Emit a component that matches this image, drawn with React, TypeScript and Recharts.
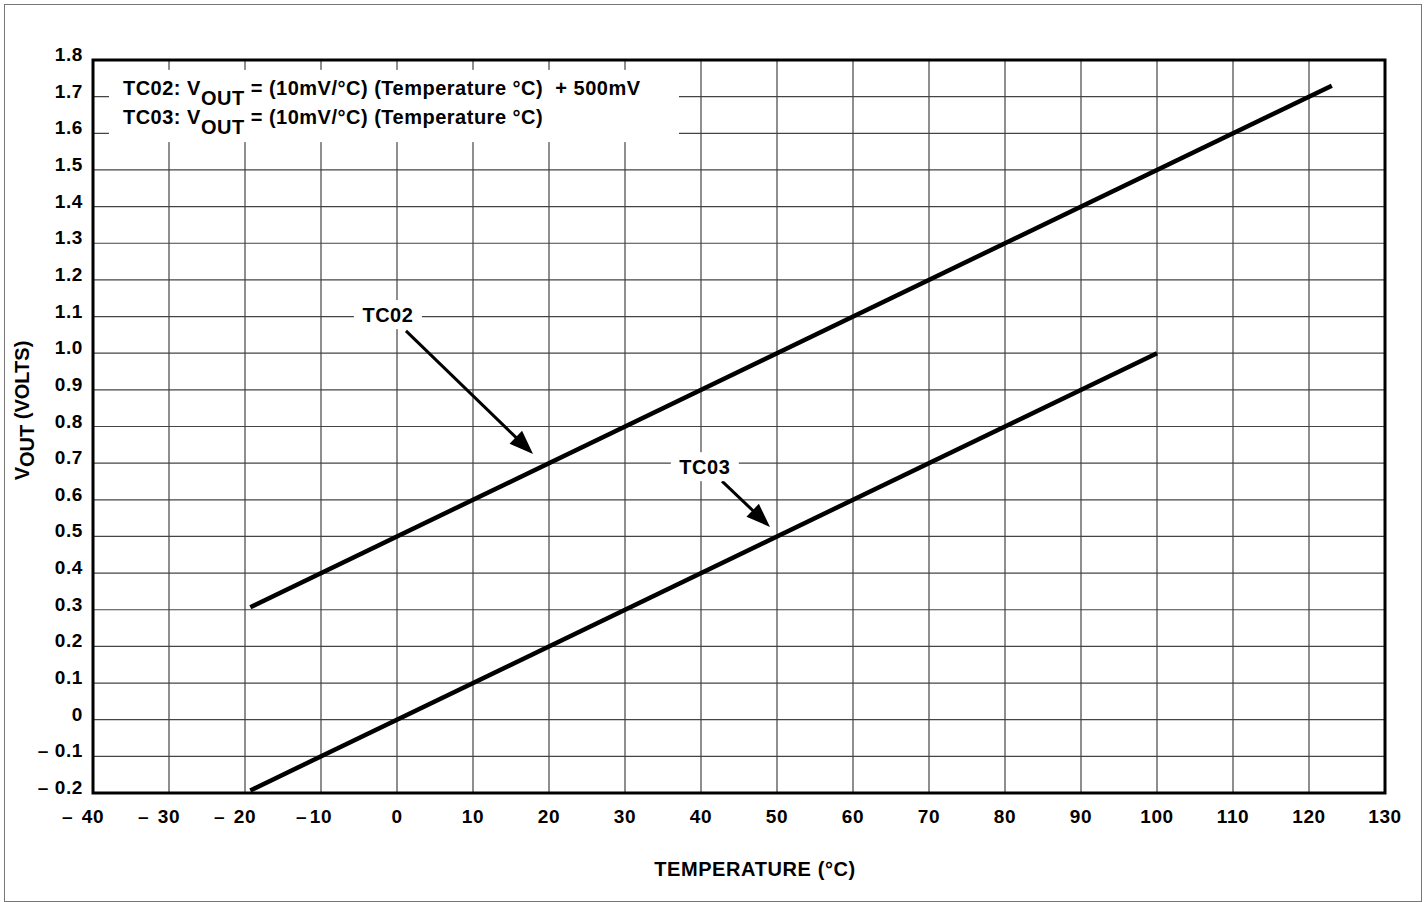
import React from 'react';
import {
  LineChart,
  Line,
  XAxis,
  YAxis,
  CartesianGrid,
  ReferenceArea,
  ReferenceLine,
  ReferenceDot,
} from 'recharts';

// ---- data ----
const X_TICKS = [-40, -30, -20, -10, 0, 10, 20, 30, 40, 50, 60, 70, 80, 90, 100, 110, 120, 130];
const X_LABELS = ['– 40', '– 30', '– 20', '–10', '0', '10', '20', '30', '40', '50', '60', '70', '80', '90', '100', '110', '120', '130'];
const Y_TICKS = [-0.2, -0.1, 0, 0.1, 0.2, 0.3, 0.4, 0.5, 0.6, 0.7, 0.8, 0.9, 1.0, 1.1, 1.2, 1.3, 1.4, 1.5, 1.6, 1.7, 1.8];
const Y_LABELS = ['– 0.2', '– 0.1', '0', '0.1', '0.2', '0.3', '0.4', '0.5', '0.6', '0.7', '0.8', '0.9', '1.0', '1.1', '1.2', '1.3', '1.4', '1.5', '1.6', '1.7', '1.8'];

const TC02 = [
  { t: -19.3, v: 0.307 },
  { t: 123, v: 1.73 },
];
const TC03 = [
  { t: -19.3, v: -0.193 },
  { t: 100, v: 1.0 },
];

const SERIES_LABELS = [
  { name: 'TC02', t: -1.2, v: 1.104 },
  { name: 'TC03', t: 40.5, v: 0.689 },
];
const ARROWS = [
  { from: [1.18, 1.061], to: [17.9, 0.725] },
  { from: [42.76, 0.651], to: [49.08, 0.526] },
];
const LEGEND_BOX = { t1: -37.9, t2: 37.1, v1: 1.576, v2: 1.773 };
const LEGEND_LINES = [
  { pre: 'TC02: V', sub: 'OUT', post: ' = (10mV/°C) (Temperature °C)  + 500mV' },
  { pre: 'TC03: V', sub: 'OUT', post: ' = (10mV/°C) (Temperature °C)' },
];

const FONT = '"Liberation Sans", Arial, Helvetica, sans-serif';
const TICK_FS = 19;

const XTick = (props: any) => {
  const { x, y, index } = props;
  const label = X_LABELS[index] ?? '';
  const m = label.match(/^(–\s?)(.*)$/);
  const fs = TICK_FS;
  const base = y + 30;
  if (m) {
    const num = m[2];
    const numW = num.length * 0.6 * fs;
    const gap = m[1].length > 1 ? 9 : 3;
    return (
      <g>
        <text x={x - numW / 2 - gap} y={base} textAnchor="end" fontFamily={FONT} fontWeight="bold" fontSize={fs} fill="#000">–</text>
        <text x={x} y={base} textAnchor="middle" fontFamily={FONT} fontWeight="bold" fontSize={fs} letterSpacing={0.6} fill="#000">{num}</text>
      </g>
    );
  }
  return (
    <text x={x} y={base} textAnchor="middle" fontFamily={FONT} fontWeight="bold" fontSize={fs} letterSpacing={0.6} fill="#000">
      {label}
    </text>
  );
};

const YTick = (props: any) => {
  const { x, y, index } = props;
  return (
    <text x={x} y={y + 1} textAnchor="end" fontFamily={FONT} fontWeight="bold" fontSize={TICK_FS} letterSpacing={0.6} fill="#000" style={{ whiteSpace: 'pre' }}>
      {Y_LABELS[index]}
    </text>
  );
};

const YTitle = (props: any) => {
  const vb = props.viewBox || { x: 0, y: 0, width: 0, height: 0 };
  const cx = vb.x + 29;
  const cy = vb.y + vb.height / 2 - 16;
  return (
    <text
      x={cx}
      y={cy}
      transform={`rotate(-90, ${cx}, ${cy})`}
      textAnchor="middle"
      fontFamily={FONT}
      fontWeight="bold"
      fontSize={20}
      fill="#000"
    >
      V<tspan dy={5}>OUT</tspan>
      <tspan dy={-5}> (VOLTS)</tspan>
    </text>
  );
};

const XTitle = (props: any) => {
  const vb = props.viewBox || { x: 0, y: 0, width: 0, height: 0 };
  return (
    <text
      x={vb.x + vb.width / 2 + 16}
      y={vb.y + 83}
      textAnchor="middle"
      fontFamily={FONT}
      fontWeight="bold"
      fontSize={20}
      letterSpacing={0.6}
      fill="#000"
    >
      TEMPERATURE (°C)
    </text>
  );
};

const LegendShape = (props: any) => {
  const { x, y, width, height } = props;
  return (
    <g>
      <rect x={x} y={y} width={width} height={height} fill="#fff" stroke="none" />
      {LEGEND_LINES.map((l, i) => (
        <text
          key={i}
          x={x + 14}
          y={y + 25 + i * 29}
          fontFamily={FONT}
          fontWeight="bold"
          fontSize={20}
          letterSpacing={0.5}
          fill="#000"
          style={{ whiteSpace: 'pre' }}
        >
          {l.pre}
          <tspan dy={10}>{l.sub}</tspan>
          <tspan dy={-10}>{l.post}</tspan>
        </text>
      ))}
    </g>
  );
};

const makeLabelShape = (name: string) => (props: any) => {
  const { cx, cy } = props;
  return (
    <g>
      <rect x={cx - 34} y={cy - 15} width={68} height={29} fill="#fff" />
      <text x={cx} y={cy + 7} textAnchor="middle" fontFamily={FONT} fontWeight="bold" fontSize={20} letterSpacing={0.5} fill="#000">
        {name}
      </text>
    </g>
  );
};

const ArrowShape = (props: any) => {
  const { x1, y1, x2, y2 } = props;
  if ([x1, y1, x2, y2].some((n) => typeof n !== 'number' || isNaN(n))) return null;
  const dx = x2 - x1;
  const dy = y2 - y1;
  const len = Math.sqrt(dx * dx + dy * dy);
  const ux = dx / len;
  const uy = dy / len;
  const hl = 24;
  const hw = 9;
  const bx = x2 - ux * hl;
  const by = y2 - uy * hl;
  const px = -uy;
  const py = ux;
  return (
    <g>
      <line x1={x1} y1={y1} x2={bx + ux * 2} y2={by + uy * 2} stroke="#000" strokeWidth={3} />
      <polygon
        points={`${x2},${y2} ${bx + px * hw},${by + py * hw} ${bx - px * hw},${by - py * hw}`}
        fill="#000"
      />
    </g>
  );
};

export default function App() {
  return (
    <div style={{ position: 'absolute', left: 0, top: 0, width: 1426, height: 902, background: '#fff' }}>
      <div
        style={{
          position: 'absolute',
          left: 4,
          top: 4,
          width: 1416,
          height: 896,
          border: '1.5px solid #777',
        }}
      />
      <div style={{ position: 'absolute', left: 0, top: 0 }}>
        <LineChart width={1426} height={902} margin={{ top: 60, right: 41, bottom: 0, left: 0 }}>
          <CartesianGrid stroke="#444" strokeWidth={1.2} horizontalValues={Y_TICKS} verticalValues={X_TICKS} />
          <XAxis
            type="number"
            dataKey="t"
            domain={[-40, 130]}
            ticks={X_TICKS}
            allowDataOverflow
            height={109}
            tickSize={0}
            tickMargin={0}
            axisLine={false}
            tickLine={false}
            tick={<XTick />}
            interval={0}
            label={<XTitle />}
          />
          <YAxis
            type="number"
            dataKey="v"
            domain={[-0.2, 1.8]}
            ticks={Y_TICKS}
            allowDataOverflow
            width={93}
            tickSize={0}
            tickMargin={10}
            axisLine={false}
            tickLine={false}
            tick={<YTick />}
            interval={0}
            label={<YTitle />}
          />
          <ReferenceArea
            x1={LEGEND_BOX.t1}
            x2={LEGEND_BOX.t2}
            y1={LEGEND_BOX.v1}
            y2={LEGEND_BOX.v2}
            shape={LegendShape}
            ifOverflow="visible"
          />
          {SERIES_LABELS.map((s) => (
            <ReferenceDot key={s.name} x={s.t} y={s.v} shape={makeLabelShape(s.name)} ifOverflow="visible" />
          ))}
          {ARROWS.map((a, i) => (
            <ReferenceLine
              key={i}
              segment={[
                { x: a.from[0], y: a.from[1] },
                { x: a.to[0], y: a.to[1] },
              ]}
              shape={ArrowShape}
              ifOverflow="visible"
            />
          ))}
          <ReferenceArea
            x1={-40}
            x2={130}
            y1={-0.2}
            y2={1.8}
            fill="none"
            fillOpacity={0}
            stroke="#000"
            strokeWidth={3}
            ifOverflow="visible"
          />
          <Line
            data={TC02}
            dataKey="v"
            type="linear"
            stroke="#000"
            strokeWidth={4.5}
            dot={false}
            activeDot={false}
            isAnimationActive={false}
          />
          <Line
            data={TC03}
            dataKey="v"
            type="linear"
            stroke="#000"
            strokeWidth={4.5}
            dot={false}
            activeDot={false}
            isAnimationActive={false}
          />
        </LineChart>
      </div>
    </div>
  );
}
